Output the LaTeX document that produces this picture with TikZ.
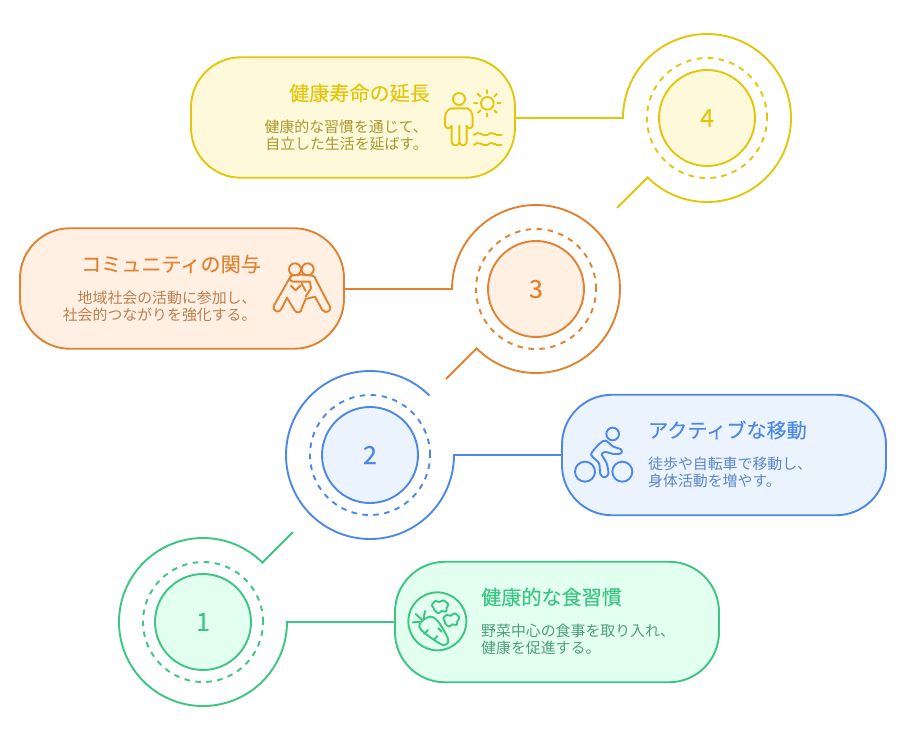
\documentclass[tikz,border=0pt]{standalone}
\usepackage{fontspec}
\setmainfont{Noto Sans CJK JP}
\newfontfamily\heavyjp[FakeBold=0.1]{Noto Sans CJK JP}
\definecolor{gS}{HTML}{3CC583}\definecolor{gF}{HTML}{E2FFF0}\definecolor{gT}{HTML}{4E9E7C}
\definecolor{bS}{HTML}{4E88E7}\definecolor{bF}{HTML}{EBF3FF}\definecolor{bT}{HTML}{5C88C8}
\definecolor{oS}{HTML}{E0822F}\definecolor{oF}{HTML}{FFF0E3}\definecolor{oT}{HTML}{BC7F4E}
\definecolor{yS}{HTML}{E3C60B}\definecolor{yF}{HTML}{FFF9DB}\definecolor{yT}{HTML}{A8982C}
\tikzset{
 pill/.style={draw=#1,line width=1.9pt,rounded corners=50pt,minimum width=324pt,minimum height=120.5pt,inner sep=0pt},
 disc/.style={circle,draw=#1,line width=1.9pt,minimum size=96pt,inner sep=0pt,font=\heavyjp\fontsize{25}{25}\selectfont},
 ring/.style={circle,draw=#1,line width=1.9pt,dash pattern=on 5.5pt off 5.5pt,minimum size=120pt,inner sep=0pt},
 link/.style={draw=#1,line width=1.9pt},
 ttl/.style={text=#1,inner sep=0pt,font=\heavyjp\fontsize{20.1}{24}\selectfont},
 bodytxt/.style={text=#1,inner sep=0pt,font=\fontsize{14.9}{17}\selectfont},
 icon/.style={draw=#1,line width=1.9pt,line cap=round,line join=round}
}
\begin{document}
\begin{tikzpicture}[x=1pt,y=1pt]
\useasboundingbox (0,0) rectangle (910,-729);
% pills
\node[pill=gS,fill=gF] (p1) at (557,-622) {};
\node[pill=bS,fill=bF] (p2) at (724,-455) {};
\node[pill=oS,fill=oF] (p3) at (182,-288.5) {};
\node[pill=yS,fill=yF] (p4) at (353,-117.5) {};
% rings
\coordinate (s1) at (287,-622);\coordinate (e1) at (293,-532);
\coordinate (s2) at (454,-455);
\coordinate (s3) at (452,-289);\coordinate (e3) at (446,-379);
\coordinate (s4) at (623,-118);\coordinate (e4) at (617,-208);
\draw[link=gS] (p1.west |- s1) -- (s1) arc[start angle=0,end angle=-315,radius=84] -- (e1);
\draw[link=bS] (p2.west |- s2) -- (s2) arc[start angle=0,end angle=-315,radius=84];
\draw[link=oS] (p3.east |- s3) -- (s3) arc[start angle=180,end angle=-135,radius=84] -- (e3);
\draw[link=yS] (p4.east |- s4) -- (s4) arc[start angle=180,end angle=-135,radius=84] -- (e4);
\node[ring=gS] (r1) at (203,-622) {};
\node[ring=bS] (r2) at (370,-455) {};
\node[ring=oS] (r3) at (536,-289) {};
\node[ring=yS] (r4) at (707,-118) {};
\node[disc=gS,fill=gF,text=gS] (c1) at (203,-622) {1};
\node[disc=bS,fill=bF,text=bS] (c2) at (370,-455) {2};
\node[disc=oS,fill=oF,text=oS] (c3) at (536,-289) {3};
\node[disc=yS,fill=yF,text=yS] (c4) at (707,-118) {4};
% text
\node[ttl=yS,anchor=east] (t4) at (430,-93) {健康寿命の延長};
\node[bodytxt=yT,anchor=east,align=right] (b4) at (428,-135.5) {健康的な習慣を通じて、\\自立した生活を延ばす。};
\node[ttl=oS,anchor=east] (t3) at (261,-264) {コミュニティの関与};
\node[bodytxt=oT,anchor=east,align=right] (b3) at (256.7,-306.5) {地域社会の活動に参加し、\\社会的つながりを強化する。};
\node[ttl=bS,anchor=west] (t2) at (648,-430) {アクティブな移動};
\node[bodytxt=bT,anchor=west,align=left] (b2) at (648,-472.5) {徒歩や自転車で移動し、\\身体活動を増やす。};
\node[ttl=gS,anchor=west] (t1) at (481,-597) {健康的な食習慣};
\node[bodytxt=gT,anchor=west,align=left] (b1) at (481,-639.5) {野菜中心の食事を取り入れ、\\健康を促進する。};
% icon carrot
\begin{scope}[shift={(400,-585)},x=.3333pt,y=-.3333pt]
\draw[icon=gS] (112,109) circle[radius=87];
\draw[icon=gS] plot[smooth cycle,tension=.6] coordinates {(66,108)(58,125)(75,145)(122,177)(138,178)(145,165)(125,125)(108,103)(90,95)};
\draw[icon=gS] (75,78)--(71,100) (47,87)--(65,103) (38,112)--(60,110) (72,147)--(84,135) (102,165)--(112,153) (115,130)--(125,140);
\draw[icon=gS] plot[smooth cycle,tension=.6] coordinates {(96,60)(106,48)(118,51)(130,46)(145,58)(140,68)(138,80)(125,78)(115,85)(104,76)(100,68)};
\draw[icon=gS] plot[smooth cycle,tension=.6] coordinates {(130,100)(140,90)(152,92)(165,85)(178,98)(172,108)(170,120)(157,118)(147,125)(136,116)(134,108)};
\end{scope}
% icon bike
\begin{scope}[shift={(565,-420)},x=.3333pt,y=-.3333pt]
\draw[icon=bS] (143,42) circle[radius=19] (60,155) circle[radius=30] (172,155) circle[radius=30];
\draw[icon=bS] plot[smooth cycle,tension=.55] coordinates {(122,62)(145,80)(168,88)(168,100)(145,102)(122,96)(110,103)(125,130)(130,162)(118,172)(106,162)(102,130)(82,110)(80,98)(105,70)};
\end{scope}
% icon people
\begin{scope}[shift={(265,-255)},x=.3333pt,y=-.3333pt]
\draw[icon=oS] (90,43) circle[radius=18] (128,43) circle[radius=18];
\draw[icon=oS] (78,62) -- (28,150) .. controls (20,170) and (42,178) .. (50,160) -- (66,128) -- (88,165) .. controls (95,178) and (112,172) .. (110,160) -- (122,132) -- (150,125) -- (172,165) .. controls (182,178) and (200,168) .. (195,155) -- (148,65) .. controls (140,58) and (90,58) .. (80,62) .. controls (72,70) and (72,78) .. (85,80) -- (135,80) -- (138,100) -- (122,125);
\draw[icon=oS] (78,92) -- (92,106) -- (106,92) (110,85) -- (122,108);
\end{scope}
% icon person and sun
\begin{scope}[shift={(440,-85)},x=.3333pt,y=-.3333pt]
\draw[icon=yS] (57,42) circle[radius=18] (142,55) circle[radius=19];
\foreach \a in {0,45,...,315}{\draw[icon=yS] ({142+30*cos(\a)},{55+30*sin(\a)}) -- ({142+40*cos(\a)},{55+40*sin(\a)});}
\draw[icon=yS] (35,70) -- (80,70) .. controls (92,72) and (98,85) .. (98,100) -- (98,122) .. controls (96,132) and (82,132) .. (80,122) -- (80,172) .. controls (78,184) and (60,184) .. (58,172) -- (58,122) (58,172) .. controls (56,184) and (37,184) .. (35,172) -- (35,122) .. controls (33,132) and (17,132) .. (15,122) -- (15,100) .. controls (15,85) and (22,72) .. (35,70);
\draw[icon=yS] (102,150) .. controls (120,135) and (125,155) .. (142,150) .. controls (160,135) and (165,155) .. (184,150);
\draw[icon=yS] (102,180) .. controls (120,165) and (125,185) .. (142,180) .. controls (160,165) and (165,185) .. (184,180);
\end{scope}
\end{tikzpicture}
\end{document}
